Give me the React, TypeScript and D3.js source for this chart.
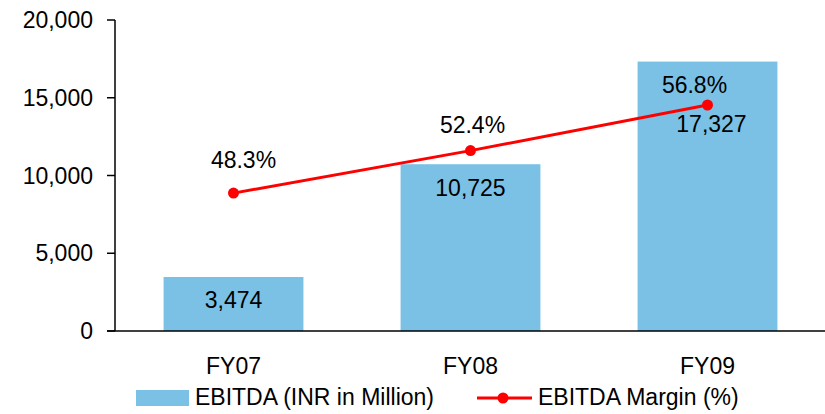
import React from "react";
import * as d3 from "d3";

const categories = ["FY07", "FY08", "FY09"];
const ebitda = [3474, 10725, 17327];
const margin = [48.3, 52.4, 56.8];
const yTicks = [0, 5000, 10000, 15000, 20000];

// label layout tweaks (pixels), kept apart from data
const barLabelDy = [31, 32, 70];
const pctLabelDx = [10, 2, -13];
const pctLabelDy = [-25, -18, -12];

const W = 825;
const H = 414;
const FONT = "Liberation Sans, Arial, sans-serif";
const FS = 23;

export default function App() {
  const x = d3.scaleBand<string>().domain(categories).range([115, 826]).paddingInner(0.41).paddingOuter(0.205);
  const y = d3.scaleLinear().domain([0, 20000]).range([331, 20]);
  const y2 = d3.scaleLinear().domain([35, 65]).range([331, 20]);
  const fmt = d3.format(",");
  const cx = (c: string) => (x(c) as number) + x.bandwidth() / 2;
  const line = d3
    .line<number>()
    .x((_, i) => cx(categories[i]))
    .y((d) => y2(d));

  return (
    <svg
      width={W}
      height={H}
      style={{ position: "absolute", left: 0, top: 0, background: "#fff" }}
      fontFamily={FONT}
    >
      {ebitda.map((v, i) => (
        <rect
          key={categories[i]}
          x={x(categories[i])}
          y={y(v)}
          width={x.bandwidth()}
          height={y(0) - y(v)}
          fill="#7AC1E5"
        />
      ))}
      {/* axis */}
      <line x1={115} x2={115} y1={y(20000)} y2={y(0)} stroke="#000" strokeWidth={1.5} />
      <line x1={107} x2={826} y1={y(0)} y2={y(0)} stroke="#000" strokeWidth={1.5} />
      {yTicks.map((t) => (
        <g key={t}>
          <line x1={107} x2={115} y1={y(t)} y2={y(t)} stroke="#000" strokeWidth={1.5} />
          <text x={93} y={y(t)} dy="0.35em" textAnchor="end" fontSize={FS} fill="#000">
            {fmt(t)}
          </text>
        </g>
      ))}
      {categories.map((c) => (
        <text key={c} x={cx(c)} y={374} textAnchor="middle" fontSize={FS} fill="#000">
          {c}
        </text>
      ))}
      {ebitda.map((v, i) => (
        <text
          key={"bl" + i}
          x={cx(categories[i]) + (i === 2 ? 4 : 0)}
          y={y(v) + barLabelDy[i]}
          textAnchor="middle"
          fontSize={FS}
          fill="#000"
        >
          {fmt(v)}
        </text>
      ))}
      <path d={line(margin) as string} fill="none" stroke="#FF0000" strokeWidth={3} />
      {margin.map((m, i) => (
        <circle key={"pt" + i} cx={cx(categories[i])} cy={y2(m)} r={5.5} fill="#FF0000" />
      ))}
      {margin.map((m, i) => (
        <text
          key={"pl" + i}
          x={cx(categories[i]) + pctLabelDx[i]}
          y={y2(m) + pctLabelDy[i]}
          textAnchor="middle"
          fontSize={FS}
          fill="#000"
        >
          {m.toFixed(1) + "%"}
        </text>
      ))}
      {/* legend */}
      <rect x={136} y={390} width={53} height={16} fill="#7AC1E5" />
      <text x={195} y={405} fontSize={FS} fill="#000">
        EBITDA (INR in Million)
      </text>
      <line x1={477} x2={532} y1={398} y2={398} stroke="#FF0000" strokeWidth={3} />
      <circle cx={503} cy={398} r={5.5} fill="#FF0000" />
      <text x={538} y={405} fontSize={FS} fill="#000">
        EBITDA Margin (%)
      </text>
    </svg>
  );
}
